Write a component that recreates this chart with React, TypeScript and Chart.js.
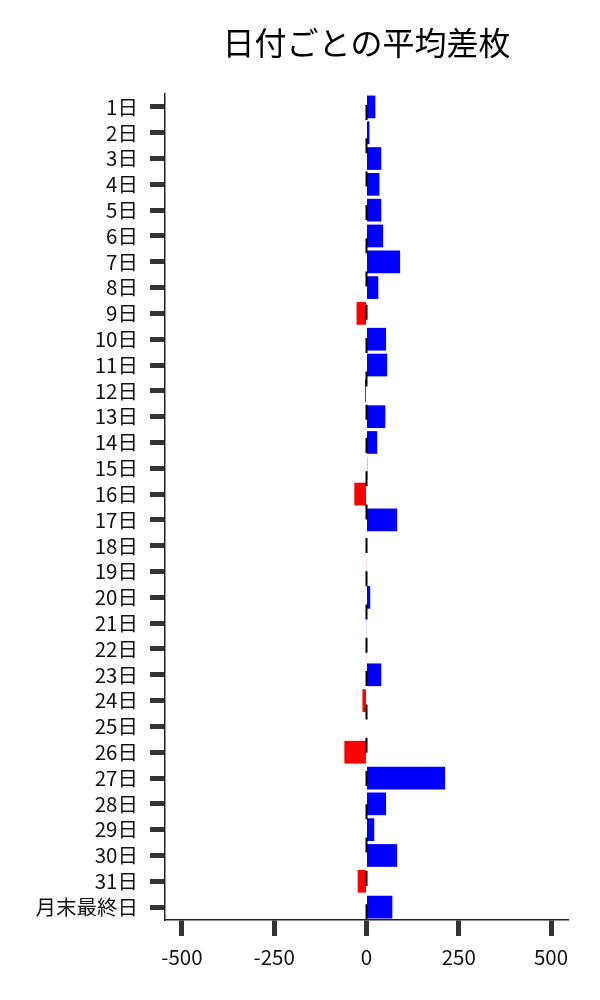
import React, { useEffect, useRef } from "react";
import { Chart, registerables } from "chart.js";

Chart.register(...registerables);

const categories = [
  "1日", "2日", "3日", "4日", "5日", "6日", "7日", "8日", "9日", "10日",
  "11日", "12日", "13日", "14日", "15日", "16日", "17日", "18日", "19日", "20日",
  "21日", "22日", "23日", "24日", "25日", "26日", "27日", "28日", "29日", "30日",
  "31日", "月末最終日",
];

const avgDiff = [
  24, 8, 40, 35, 40, 45, 91, 32, -27, 53,
  56, -4, 51, 29, 2, -33, 83, 0, -1, 10,
  1, -1, 40, -11, 0, -60, 213, 53, 21, 83,
  -24, 70,
];

const xTickValues = [-500, -250, 0, 250, 500];
const xMin = -546;
const xMax = 546;

const title = "日付ごとの平均差枚";
const FONT = "'Noto Sans CJK JP', 'Noto Sans', sans-serif";

const zeroLinePlugin = {
  id: "zeroLine",
  afterDatasetsDraw(chart: any) {
    const { ctx, chartArea } = chart;
    const x = chart.scales.x.getPixelForValue(0);
    ctx.save();
    ctx.strokeStyle = "#000000";
    ctx.lineWidth = 2;
    ctx.setLineDash([15, 18.3]);
    ctx.lineDashOffset = 22.3;
    ctx.beginPath();
    ctx.moveTo(x, chartArea.top);
    ctx.lineTo(x, chartArea.bottom);
    ctx.stroke();
    ctx.restore();
  },
};

export default function App() {
  const canvasRef = useRef<HTMLCanvasElement | null>(null);

  useEffect(() => {
    document.body.style.margin = "0";
    if (!canvasRef.current) return;
    const colors = avgDiff.map((v) => (v < 0 ? "#ff0000" : "#0000ff"));
    const chart = new Chart(canvasRef.current, {
      type: "bar",
      data: {
        labels: categories,
        datasets: [
          {
            data: avgDiff,
            backgroundColor: colors,
            borderWidth: 0,
            barPercentage: 0.88,
            categoryPercentage: 1.0,
          },
        ],
      },
      plugins: [zeroLinePlugin],
      options: {
        indexAxis: "y",
        responsive: false,
        animation: false,
        layout: { padding: { top: 0, left: 0, right: 32, bottom: 0 } },
        plugins: {
          legend: { display: false },
          tooltip: { enabled: false },
          title: {
            display: true,
            text: title,
            fullSize: false,
            color: "#000000",
            font: { family: FONT, size: 32, weight: "normal" },
            padding: { top: 24, bottom: 31.6 },
          },
        },
        scales: {
          x: {
            type: "linear",
            min: xMin,
            max: xMax,
            afterBuildTicks: (scale: any) => {
              scale.ticks = xTickValues.map((v) => ({ value: v }));
            },
            afterFit: (scale: any) => {
              scale.height = 80;
            },
            grid: {
              drawOnChartArea: false,
              drawTicks: true,
              tickLength: 16,
              tickWidth: 5,
              tickColor: "#333333",
            },
            border: { display: true, color: "#222222", width: 1.5 },
            ticks: {
              color: "#111111",
              padding: 9,
              font: { family: FONT, size: 20.5 },
              callback: (v: any) => String(v),
            },
          },
          y: {
            type: "category",
            afterFit: (scale: any) => {
              scale.width = 165;
            },
            grid: {
              offset: false,
              drawOnChartArea: false,
              drawTicks: true,
              tickLength: 15,
              tickWidth: 5,
              tickColor: "#333333",
            },
            border: { display: true, color: "#222222", width: 1.5 },
            ticks: {
              color: "#111111",
              padding: 12,
              autoSkip: false,
              font: { family: FONT, size: 20.5 },
            },
          },
        },
      },
    });
    return () => chart.destroy();
  }, []);

  return (
    <div style={{ width: 600, height: 1000 }}>
      <canvas ref={canvasRef} width={600} height={1000} style={{ display: "block" }} />
    </div>
  );
}
